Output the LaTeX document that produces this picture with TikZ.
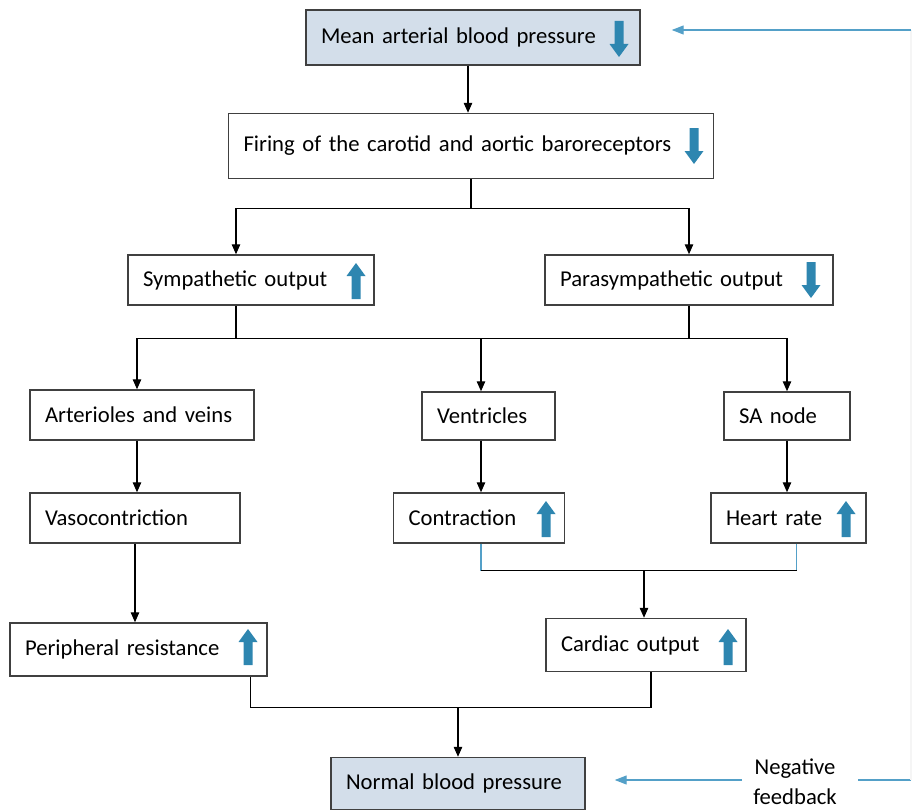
\documentclass[tikz,border=0pt]{standalone}
\usepackage{fontspec}
\setmainfont{Carlito}
\usepackage{tikz}
\usetikzlibrary{arrows.meta, positioning}

\definecolor{boxfill}{RGB}{211,222,234}
\definecolor{iconblue}{RGB}{46,134,176}
\definecolor{feedblue}{RGB}{84,160,200}

% block arrows inside the boxes (x, y of the foot)
\newcommand{\uparr}[2]{\fill[iconblue] (#1,#2) ++(-4.5,0) -- ++(0,-23) -- ++(-5,0) -- ++(9.5,-13) -- ++(9.5,13) -- ++(-5,0) -- ++(0,23) -- cycle;}
\newcommand{\downarr}[2]{\fill[iconblue] (#1,#2) ++(-4.5,0) -- ++(0,23) -- ++(-5,0) -- ++(9.5,13) -- ++(9.5,-13) -- ++(-5,0) -- ++(0,-23) -- cycle;}

\begin{document}
\begin{tikzpicture}[x=0.02cm, y=-0.02cm,
    every node/.style={font=\fontsize{12.9}{17}\selectfont},
    box/.style={draw=black!75, line width=0.85pt, align=left, inner xsep=0.3cm},
    mainbox/.style={box, fill=boxfill},
    arr/.style={-{Triangle[length=0.2cm, width=0.17cm]}, line width=0.7pt},
    feed/.style={feedblue, line width=0.7pt},
    feedarr/.style={feed, -{Triangle[length=0.24cm, width=0.18cm]}}]
    \useasboundingbox (0,0) rectangle (912,811);

    \node[mainbox, minimum width=6.68cm, minimum height=1.1cm, text width=6.08cm] at (473,37.5) (mabp) {Mean arterial blood pressure};
    \node[box, minimum width=9.7cm, minimum height=1.3cm, text width=9.1cm] at (471,146) (firing) {Firing of the carotid and aortic baroreceptors\\[0.5cm]};
    \node[box, minimum width=4.92cm, minimum height=1cm, text width=4.32cm] at (251,280) (symp) {Sympathetic output};
    \node[box, minimum width=5.76cm, minimum height=1cm, text width=5.16cm] at (689,280) (para) {Parasympathetic output};
    \node[box, minimum width=4.48cm, minimum height=1cm, text width=3.88cm] at (142,415) (art) {Arterioles and veins};
    \node[box, minimum width=2.66cm, minimum height=0.96cm, text width=2.06cm] at (488.5,416) (vent) {Ventricles};
    \node[box, minimum width=2.52cm, minimum height=0.96cm, text width=1.92cm] at (787,416) (sa) {SA node};
    \node[box, minimum width=4.2cm, minimum height=1cm, text width=3.6cm] at (135,518) (vaso) {Vasocontriction};
    \node[box, minimum width=3.42cm, minimum height=1cm, text width=2.82cm] at (479,518) (contr) {Contraction};
    \node[box, minimum width=3.1cm, minimum height=1cm, text width=2.5cm] at (788.5,518) (hr) {Heart rate};
    \node[box, minimum width=4cm, minimum height=1.06cm, text width=3.4cm] at (646,645) (card) {Cardiac output};
    \node[box, minimum width=5.14cm, minimum height=1.06cm, text width=4.54cm] at (138.5,649.5) (per) {Peripheral resistance};
    \node[mainbox, minimum width=5.08cm, minimum height=1.04cm, text width=4.48cm] at (458,783.5) (norm) {Normal blood pressure};
    \node[align=center] at (795,782) (neg) {Negative\\feedback};

    % up / down markers
    \downarr{619}{21}
    \downarr{694}{128}
    \uparr{356}{299}
    \downarr{811}{262}
    \uparr{546}{537}
    \uparr{846}{537}
    \uparr{728}{665}
    \uparr{248}{665}

    % connectors
    \draw[arr] (mabp.south -| 468,0) -- (firing.north -| 468,0);
    \draw[line width=0.7pt] (firing.south) -- ++(0,29) coordinate (j1);
    \draw[arr] (j1) -| ([xshift=-0.3cm]symp.north);
    \draw[arr] (j1) -| (para.north);

    \draw[line width=0.7pt] ([xshift=-0.3cm]symp.south) -- ++(0,33) coordinate (j2);
    \draw[line width=0.7pt] (para.south) -- (para.south |- j2);
    \draw[arr] (j2) -| ([xshift=-0.1cm]art.north);
    \draw[arr] (j2) -| ([xshift=-0.15cm]vent.north);
    \draw[arr] (j2) -| (sa.north);

    \draw[arr] ([xshift=-0.1cm]art.south) -- ([xshift=-0.1cm]art.south |- vaso.north);
    \draw[arr] ([xshift=-0.15cm]vent.south) -- ([xshift=-0.15cm]vent.south |- contr.north);
    \draw[arr] (sa.south) -- (sa.south |- hr.north);

    \draw[feed] ([xshift=0.04cm]contr.south) -- ++(0,27) coordinate (c1);
    \draw[feed] ([xshift=0.16cm]hr.south) -- ++(0,27) coordinate (c2);
    \draw[line width=0.7pt] (c1) -- (c2);
    \draw[arr] ([xshift=-0.04cm]card.north |- c1) -- ([xshift=-0.04cm]card.north);

    \draw[arr] (vaso.south) -- (vaso.south |- per.north);

    \draw[line width=0.7pt] ([xshift=-0.34cm]per.south east) -- ++(0,31) coordinate (d1);
    \draw[line width=0.7pt] ([xshift=0.1cm]card.south) -- ([xshift=0.1cm]card.south |- d1) -- (d1);
    \draw[arr] (norm.north |- d1) -- (norm.north);

    % negative feedback loop
    \coordinate (rb) at (911,780);
    \coordinate (rt) at (911,30);
    \draw[feedarr, shorten <=0.1cm, shorten >=0.58cm] (neg.west |- rb) -- (norm.east |- rb);
    \draw[feed, shorten >=0.3cm] (rb) -- (neg.east |- rb);
    \draw[black!4, line width=0.7pt] (rb) -- (rt);
    \draw[feedarr, shorten >=0.62cm] (rt) -- (mabp.east |- rt);
\end{tikzpicture}
\end{document}
